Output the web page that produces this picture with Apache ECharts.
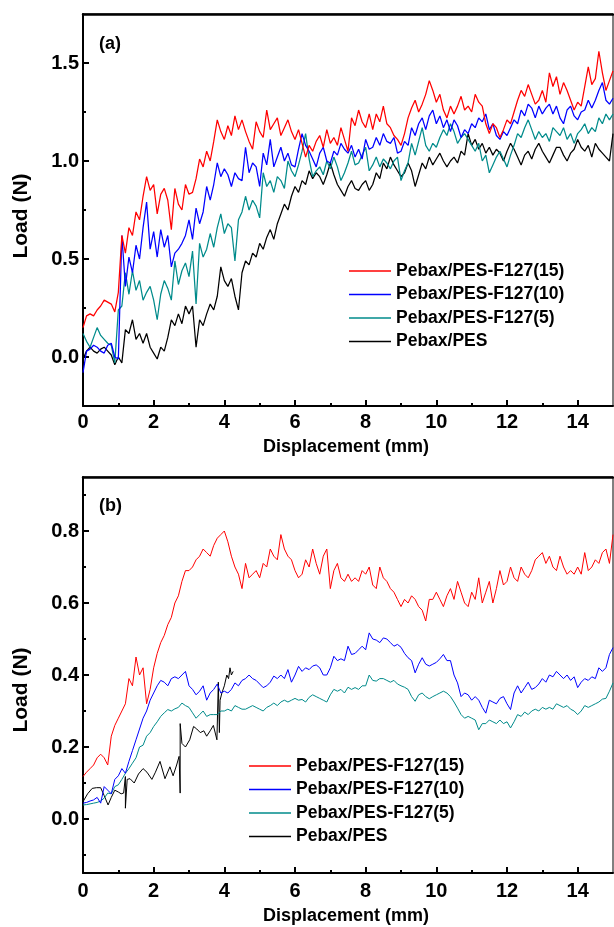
<!DOCTYPE html>
<html>
<head>
<meta charset="utf-8">
<script src="https://cdn.jsdelivr.net/npm/echarts@6/dist/echarts.min.js"></script>
<style>
html,body{margin:0;padding:0;background:#fff;}
#chart{width:614px;height:927px;}
</style>
</head>
<body>
<div id="chart"></div>
<script>
// ---------- data ----------
const seriesNames = ['Pebax/PES-F127(15)', 'Pebax/PES-F127(10)', 'Pebax/PES-F127(5)', 'Pebax/PES'];
const xStep = 0.1; // displacement sampling (mm)
const xTicks = [0, 2, 4, 6, 8, 10, 12, 14];
const xMinorTicks = [1, 3, 5, 7, 9, 11, 13];
const aYTicks = [0, 0.5, 1.0, 1.5];
const aYMinorTicks = [0.25, 0.75, 1.25];
const bYTicks = [0, 0.2, 0.4, 0.6, 0.8];
const bYMinorTicks = [-0.1, 0.1, 0.3, 0.5, 0.7, 0.9];

// panel (a)
const aRed = [0.15,0.21,0.22,0.21,0.24,0.26,0.29,0.28,0.27,0.23,
0.33,0.62,0.53,0.66,0.62,0.74,0.70,0.82,0.92,0.85,
0.88,0.73,0.83,0.86,0.80,0.65,0.86,0.78,0.75,0.88,
0.83,0.84,0.91,1.01,0.97,1.05,1.00,1.10,1.21,1.15,
1.11,1.18,1.13,1.23,1.16,1.21,1.15,1.10,1.06,1.20,
1.15,1.12,1.26,1.16,1.19,1.22,1.13,1.17,1.21,1.15,
1.11,1.16,1.09,1.02,1.08,1.05,1.10,1.13,1.07,1.16,
1.09,1.12,1.08,1.17,1.11,1.05,1.22,1.18,1.26,1.20,
1.17,1.24,1.16,1.24,1.20,1.28,1.19,1.17,1.13,1.11,
1.08,1.14,1.22,1.27,1.31,1.25,1.29,1.34,1.41,1.36,
1.30,1.34,1.26,1.22,1.28,1.24,1.28,1.33,1.26,1.28,
1.25,1.34,1.30,1.28,1.19,1.14,1.19,1.17,1.12,1.16,
1.21,1.19,1.25,1.31,1.36,1.33,1.39,1.34,1.29,1.31,
1.36,1.30,1.45,1.38,1.43,1.34,1.40,1.36,1.31,1.26,
1.30,1.28,1.38,1.48,1.39,1.42,1.56,1.45,1.36,1.41,
1.46];
const aBlue = [-0.08,0.03,0.04,0.06,0.05,0.03,0.02,0.06,0.07,0.00,
-0.01,0.62,0.36,0.51,0.43,0.57,0.50,0.66,0.79,0.55,
0.64,0.51,0.65,0.56,0.62,0.46,0.53,0.55,0.58,0.62,
0.70,0.60,0.76,0.68,0.74,0.87,0.80,0.88,0.99,0.92,
0.96,0.93,0.87,0.94,0.91,0.90,1.07,0.94,0.99,0.97,
0.87,1.04,0.98,1.11,0.97,1.02,1.07,1.00,1.04,0.98,
0.97,1.06,1.14,1.08,1.05,1.01,0.97,1.04,1.07,1.00,
0.99,1.05,1.03,1.09,1.06,1.04,1.08,1.02,1.06,1.01,
1.11,1.06,1.07,1.12,1.08,1.14,1.10,1.09,1.12,1.04,
1.05,1.10,1.08,1.17,1.13,1.19,1.22,1.16,1.23,1.26,
1.19,1.23,1.17,1.21,1.15,1.21,1.18,1.12,1.16,1.14,
1.19,1.17,1.22,1.20,1.24,1.16,1.19,1.13,1.11,1.15,
1.13,1.17,1.21,1.19,1.26,1.23,1.29,1.27,1.22,1.28,
1.24,1.27,1.29,1.24,1.28,1.22,1.19,1.26,1.28,1.23,
1.21,1.25,1.26,1.31,1.27,1.31,1.36,1.40,1.31,1.29,
1.32];
const aTeal = [0.12,0.08,0.05,0.10,0.15,0.11,0.09,0.07,0.06,-0.03,
0.24,0.26,0.43,0.32,0.44,0.34,0.39,0.29,0.33,0.36,
0.29,0.19,0.32,0.39,0.35,0.29,0.49,0.37,0.44,0.48,
0.41,0.54,0.27,0.58,0.51,0.55,0.63,0.56,0.66,0.73,
0.63,0.68,0.66,0.49,0.70,0.74,0.82,0.75,0.80,0.77,
0.71,0.94,0.87,0.90,0.84,0.92,0.90,0.86,1.00,0.95,
0.92,0.98,1.05,1.14,1.01,0.92,0.95,0.97,0.93,1.00,
0.96,1.02,0.97,0.90,0.94,0.99,1.05,0.98,0.99,1.03,
1.07,0.95,0.98,1.02,0.97,1.01,0.99,0.96,1.00,1.02,
0.90,0.95,0.99,1.09,1.03,1.10,1.17,1.08,1.05,1.09,
1.07,1.12,1.16,1.13,1.19,1.15,1.09,1.12,1.14,1.11,
1.08,1.05,1.09,1.00,1.03,0.94,0.98,1.02,1.05,1.01,
0.97,1.03,1.08,1.14,1.12,1.17,1.21,1.16,1.11,1.15,
1.12,1.14,1.10,1.17,1.15,1.13,1.17,1.11,1.14,1.09,
1.14,1.16,1.19,1.14,1.17,1.15,1.22,1.19,1.24,1.21,
1.24];
const aBlack = [-0.01,0.03,0.05,0.03,0.02,0.04,0.05,0.03,0.01,-0.04,
0.00,-0.03,0.14,0.12,0.19,0.09,0.12,0.07,0.12,0.05,
0.02,-0.01,0.05,0.03,0.10,0.19,0.16,0.22,0.17,0.26,
0.22,0.26,0.05,0.19,0.16,0.22,0.27,0.24,0.31,0.46,
0.39,0.36,0.40,0.31,0.24,0.43,0.49,0.47,0.53,0.51,
0.58,0.55,0.61,0.65,0.60,0.68,0.73,0.78,0.75,0.82,
0.87,0.84,0.90,0.88,0.95,0.91,0.94,0.92,0.88,0.93,
0.99,0.93,0.88,0.85,0.82,0.87,0.90,0.86,0.85,0.88,
0.90,0.85,0.88,0.94,0.91,0.99,0.96,1.02,0.98,0.95,
0.92,0.94,0.99,0.95,0.87,0.93,0.99,0.96,1.02,0.98,
1.01,1.04,1.00,0.97,1.00,1.02,0.99,1.05,1.03,1.14,
1.08,1.11,1.06,1.09,1.04,1.07,1.03,1.06,1.04,1.00,
1.05,1.09,1.06,1.02,0.98,1.03,1.05,1.01,1.06,1.09,
1.05,1.02,0.99,1.03,1.07,1.07,1.03,1.00,1.04,1.06,
1.11,1.07,1.05,1.08,1.02,1.09,1.06,1.04,1.02,1.00,
1.14];

// panel (b)
const bRed = [0.118,0.13,0.14,0.15,0.17,0.18,0.17,0.15,0.23,0.26,
0.28,0.30,0.32,0.39,0.37,0.45,0.40,0.42,0.32,0.36,
0.42,0.46,0.49,0.51,0.54,0.56,0.60,0.62,0.66,0.69,
0.69,0.70,0.72,0.73,0.75,0.74,0.73,0.76,0.78,0.79,
0.80,0.77,0.73,0.70,0.68,0.64,0.71,0.67,0.68,0.69,
0.67,0.71,0.70,0.75,0.73,0.72,0.79,0.75,0.73,0.72,
0.69,0.67,0.68,0.72,0.70,0.75,0.71,0.68,0.73,0.75,
0.64,0.69,0.71,0.67,0.66,0.68,0.66,0.67,0.66,0.69,
0.68,0.70,0.65,0.64,0.70,0.67,0.66,0.64,0.63,0.61,
0.59,0.61,0.60,0.62,0.61,0.59,0.58,0.55,0.61,0.61,
0.63,0.61,0.59,0.62,0.64,0.61,0.66,0.63,0.60,0.59,
0.63,0.61,0.67,0.60,0.63,0.66,0.60,0.64,0.69,0.65,
0.66,0.70,0.67,0.66,0.70,0.68,0.67,0.69,0.72,0.73,
0.74,0.71,0.73,0.70,0.69,0.73,0.70,0.68,0.69,0.68,
0.70,0.68,0.74,0.69,0.70,0.72,0.71,0.74,0.75,0.71,
0.79];
const bBlue = [0.044,0.046,0.05,0.053,0.06,0.044,0.09,0.08,0.07,0.11,
0.12,0.14,0.127,0.16,0.19,0.22,0.25,0.28,0.30,0.33,
0.35,0.37,0.385,0.38,0.37,0.39,0.395,0.39,0.40,0.41,
0.37,0.36,0.345,0.355,0.37,0.33,0.35,0.36,0.375,0.35,
0.355,0.35,0.36,0.378,0.37,0.385,0.39,0.40,0.39,0.385,
0.375,0.365,0.37,0.38,0.397,0.39,0.40,0.39,0.415,0.38,
0.40,0.424,0.41,0.42,0.415,0.425,0.428,0.42,0.40,0.40,
0.42,0.452,0.44,0.445,0.44,0.48,0.457,0.46,0.47,0.48,
0.47,0.517,0.50,0.497,0.49,0.503,0.50,0.49,0.48,0.485,
0.477,0.46,0.448,0.44,0.406,0.43,0.448,0.43,0.425,0.43,
0.435,0.445,0.457,0.44,0.44,0.40,0.378,0.34,0.35,0.345,
0.33,0.34,0.33,0.31,0.294,0.33,0.325,0.32,0.335,0.34,
0.32,0.304,0.35,0.37,0.35,0.365,0.38,0.36,0.365,0.375,
0.39,0.38,0.40,0.395,0.41,0.40,0.39,0.40,0.385,0.395,
0.365,0.38,0.39,0.385,0.395,0.39,0.42,0.41,0.42,0.457,
0.476];
const bTeal = [0.039,0.04,0.042,0.044,0.046,0.05,0.058,0.072,0.07,0.09,
0.095,0.11,0.127,0.14,0.155,0.17,0.20,0.205,0.23,0.24,
0.257,0.27,0.285,0.295,0.304,0.30,0.306,0.31,0.322,0.315,
0.31,0.295,0.28,0.29,0.30,0.285,0.29,0.29,0.29,0.30,
0.30,0.305,0.30,0.315,0.31,0.305,0.305,0.31,0.315,0.31,
0.305,0.30,0.31,0.315,0.322,0.315,0.325,0.33,0.325,0.33,
0.335,0.33,0.332,0.325,0.338,0.345,0.34,0.335,0.33,0.325,
0.345,0.36,0.355,0.36,0.35,0.366,0.36,0.365,0.36,0.37,
0.37,0.40,0.385,0.383,0.39,0.39,0.385,0.38,0.385,0.375,
0.37,0.366,0.36,0.34,0.327,0.345,0.35,0.34,0.334,0.34,
0.345,0.35,0.355,0.35,0.34,0.325,0.308,0.29,0.28,0.285,
0.28,0.275,0.248,0.265,0.265,0.275,0.27,0.265,0.275,0.265,
0.27,0.253,0.27,0.29,0.285,0.297,0.29,0.30,0.305,0.30,
0.31,0.305,0.31,0.305,0.32,0.315,0.31,0.315,0.305,0.30,
0.29,0.30,0.315,0.31,0.315,0.32,0.325,0.333,0.335,0.355,
0.378];
const bBlackX = [0,0.13,0.26,0.38,0.5,0.6,0.71,0.8,0.9,1.0,
1.08,1.15,1.2,1.2,1.25,1.33,1.45,1.57,1.7,1.81,
1.95,2.05,2.18,2.32,2.46,2.55,2.65,2.72,2.75,2.75,
2.8,2.9,3.02,3.13,3.22,3.32,3.42,3.5,3.6,3.69,
3.79,3.83,3.86,3.88,3.93,4.0,4.07,4.12,4.16,4.2,
4.25];
const bBlackY = [0.048,0.07,0.085,0.087,0.087,0.065,0.039,0.06,0.08,0.075,
0.07,0.072,0.118,0.03,0.11,0.112,0.10,0.125,0.14,0.13,
0.11,0.13,0.16,0.112,0.145,0.12,0.15,0.174,0.072,0.265,
0.21,0.20,0.22,0.257,0.25,0.24,0.245,0.23,0.245,0.26,
0.22,0.38,0.24,0.33,0.35,0.37,0.40,0.39,0.42,0.40,
0.41];

const colors = ['#ff0000', '#0000ff', '#008b8b', '#000000'];

// ---------- build ----------
const FONT = "'Liberation Sans', Arial, sans-serif";
function pairs(arr) { return arr.map((v, i) => [+(i * xStep).toFixed(2), v]); }
function zip(xs, ys) { return xs.map((x, i) => [x, ys[i]]); }

const panels = [
  { grid: { left: 83, top: 14, width: 530, height: 392 }, ymin: -0.25, ymax: 1.75, ticks: aYTicks, minor: aYMinorTicks, lw: 1.25,
    data: [pairs(aRed), pairs(aBlue), pairs(aTeal), pairs(aBlack)] },
  { grid: { left: 83, top: 477, width: 530, height: 396 }, ymin: -0.15, ymax: 0.95, ticks: bYTicks, minor: bYMinorTicks, lw: 1,
    data: [pairs(bRed), pairs(bBlue), pairs(bTeal), zip(bBlackX, bBlackY)] }
];

const grids = [], xAxes = [], yAxes = [], series = [];
const labelStyle = { color: '#000', fontSize: 20, fontWeight: 'bold', fontFamily: FONT };
panels.forEach((p, gi) => {
  grids.push(Object.assign({ show: true, borderColor: '#000', borderWidth: 1, backgroundColor: 'transparent' }, p.grid));
  const xi = xAxes.length;
  xAxes.push({ gridIndex: gi, type: 'value', min: 0, max: 15, position: 'bottom',
    axisLine: { show: true, onZero: false, lineStyle: { color: '#000', width: 2 } },
    axisTick: { show: true, inside: true, length: 6, lineStyle: { width: 2, color: '#000' }, customValues: xTicks },
    axisLabel: Object.assign({ show: true, margin: gi === 0 ? 6 : 8, customValues: xTicks, formatter: v => String(v) }, labelStyle),
    splitLine: { show: false } });
  xAxes.push({ gridIndex: gi, type: 'value', min: 0, max: 15, position: 'bottom',
    axisLine: { show: false, onZero: false },
    axisTick: { show: true, inside: true, length: 3, lineStyle: { width: 2, color: '#000' }, customValues: xMinorTicks },
    axisLabel: { show: false }, splitLine: { show: false } });
  xAxes.push({ gridIndex: gi, type: 'value', min: 0, max: 15, position: 'top',
    axisLine: { show: true, onZero: false, lineStyle: { color: '#000', width: 2.5 } },
    axisTick: { show: false }, axisLabel: { show: false }, splitLine: { show: false } });
  const yi = yAxes.length;
  yAxes.push({ gridIndex: gi, type: 'value', min: p.ymin, max: p.ymax, position: 'left',
    axisLine: { show: true, onZero: false, lineStyle: { color: '#000', width: 2 } },
    axisTick: { show: true, inside: true, length: 6, lineStyle: { width: 2, color: '#000' }, customValues: p.ticks },
    axisLabel: Object.assign({ show: true, margin: 4, customValues: p.ticks, formatter: v => v.toFixed(1) }, labelStyle),
    splitLine: { show: false } });
  yAxes.push({ gridIndex: gi, type: 'value', min: p.ymin, max: p.ymax, position: 'left',
    axisLine: { show: false, onZero: false },
    axisTick: { show: true, inside: true, length: 3, lineStyle: { width: 2, color: '#000' }, customValues: p.minor },
    axisLabel: { show: false }, splitLine: { show: false } });
  p.data.forEach((d, si) => {
    series.push({ name: seriesNames[si], type: 'line', xAxisIndex: xi, yAxisIndex: yi, data: d,
      symbol: 'none', showSymbol: false, silent: true, animation: false,
      lineStyle: { color: colors[si], width: p.lw }, itemStyle: { color: colors[si] }, z: 10 - si });
  });
});

const legendText = { fontSize: 17.5, fontWeight: 'bold', fontFamily: FONT, color: '#000' };
function legendAt(left, top) {
  return { data: seriesNames, orient: 'vertical', left: left, top: top, padding: 0,
    icon: 'rect', itemWidth: 42, itemHeight: 1.3, itemGap: 5.5,
    textStyle: legendText, selectedMode: false };
}
const option = {
  backgroundColor: '#fff',
  animation: false,
  grid: grids, xAxis: xAxes, yAxis: yAxes, series: series,
  legend: [ legendAt(349, 262), legendAt(249, 757) ],
  graphic: [
    { type: 'text', left: 99, top: 35, style: { text: '(a)', font: "bold 18px 'Liberation Sans', Arial, sans-serif", fill: '#000' } },
    { type: 'text', left: 99, top: 497, style: { text: '(b)', font: "bold 18px 'Liberation Sans', Arial, sans-serif", fill: '#000' } },
    { type: 'text', x: 346, y: 447, style: { text: 'Displacement (mm)', font: "bold 18px 'Liberation Sans', Arial, sans-serif", fill: '#000', align: 'center', verticalAlign: 'middle' } },
    { type: 'text', x: 346, y: 916, style: { text: 'Displacement (mm)', font: "bold 18px 'Liberation Sans', Arial, sans-serif", fill: '#000', align: 'center', verticalAlign: 'middle' } },
    { type: 'text', x: 21, y: 216, rotation: Math.PI / 2, style: { text: 'Load (N)', font: "bold 21px 'Liberation Sans', Arial, sans-serif", fill: '#000', align: 'center', verticalAlign: 'middle' } },
    { type: 'text', x: 21, y: 690, rotation: Math.PI / 2, style: { text: 'Load (N)', font: "bold 21px 'Liberation Sans', Arial, sans-serif", fill: '#000', align: 'center', verticalAlign: 'middle' } }
  ]
};
const chart = echarts.init(document.getElementById('chart'), null, { renderer: 'canvas' });
chart.setOption(option);
</script>
</body>
</html>
